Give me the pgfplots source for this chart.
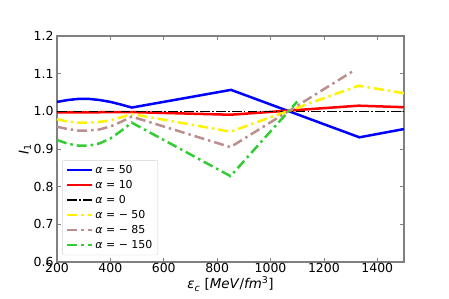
\documentclass[border=0pt]{standalone}
\usepackage{pgfplots}
\pgfplotsset{compat=1.18}
\usepackage{fontspec}
\setmainfont{DejaVu Sans}
\definecolor{rosy}{RGB}{188,143,143}
\definecolor{lime}{RGB}{50,205,50}
\definecolor{spine}{RGB}{128,128,128}
\begin{document}
\begin{tikzpicture}
\begin{axis}[
  at={(0,0)}, anchor=south west,
  scale only axis, width=347bp, height=226bp,
  xmin=200, xmax=1500, ymin=0.6, ymax=1.2,
  xtick={200,400,...,1400}, ytick={0.6,0.7,...,1.21},
  yticklabel style={/pgf/number format/fixed, /pgf/number format/fixed zerofill, /pgf/number format/precision=1},
  xticklabel style={/pgf/number format/1000 sep={}, yshift=2bp},
  /pgf/number format/assume math mode=true,
  tick align=inside, major tick length=4bp,
  tick style={spine, line width=0.8bp},
  axis line style={spine, line width=1.3bp},
  ticklabel style={font=\fontsize{12.5}{14}\selectfont},
  ylabel={\textit{I}\textsubscript{1}},
  xlabel={\textit{ε}\textsubscript{\textit{c}} [\textit{MeV}/\textit{fm}\textsuperscript{3}]},
  label style={font=\fontsize{13.5}{16}\selectfont},
  ylabel style={yshift=-4bp},
  xlabel style={yshift=3bp},
  legend cell align=left,
  legend style={at={(0.015,0.03)}, anchor=south west, draw=gray!35, rounded corners=2bp,
    fill=white, fill opacity=0.8, text opacity=1, font=\fontsize{11}{12}\selectfont,
    row sep=1.4bp, inner sep=3bp, inner xsep=3.5bp},
  legend image code/.code={\draw[#1] (0bp,0bp) -- (25bp,0bp);},
]
\addplot[blue, line width=2.5bp] coordinates {
(200,1.025) (240,1.030) (280,1.033) (320,1.033) (360,1.030) (400,1.025) (440,1.018) (480,1.010)
(852,1.057) (1333,0.931) (1500,0.953)};
\addlegendentry{\textit{α} = 50}
\addplot[red, line width=2.5bp] coordinates {
(200,0.997) (480,0.998) (850,0.991) (1330,1.015) (1500,1.011)};
\addlegendentry{\textit{α} = 10}
\addplot[black, line width=1.5bp, dash pattern=on 9.6bp off 2.4bp on 1.5bp off 2.4bp] coordinates {
(200,1.0) (1500,1.0)};
\addlegendentry{\textit{α} = 0}
\addplot[yellow, line width=2.5bp, dash pattern=on 10bp off 4bp on 2.5bp off 4bp] coordinates {
(200,0.979) (240,0.973) (280,0.970) (320,0.970) (360,0.972) (400,0.976) (440,0.984) (480,0.993)
(850,0.946) (1330,1.068) (1500,1.048)};
\addlegendentry{\textit{α} = − 50}
\addplot[rosy, line width=2.5bp, dash pattern=on 10bp off 4bp on 2.5bp off 4bp] coordinates {
(200,0.959) (240,0.953) (280,0.949) (320,0.949) (360,0.952) (400,0.960) (440,0.972) (480,0.986)
(850,0.905) (1305,1.105)};
\addlegendentry{\textit{α} = − 85}
\addplot[lime, line width=2.5bp, dash pattern=on 10bp off 4bp on 2.5bp off 4bp] coordinates {
(200,0.924) (240,0.914) (280,0.909) (320,0.909) (360,0.915) (400,0.928) (440,0.948) (480,0.970)
(850,0.828) (1100,1.026)};
\addlegendentry{\textit{α} = − 150}
\end{axis}
\path[use as bounding box] (-57bp,-37bp) rectangle (392bp,262bp);
\end{tikzpicture}
\end{document}
